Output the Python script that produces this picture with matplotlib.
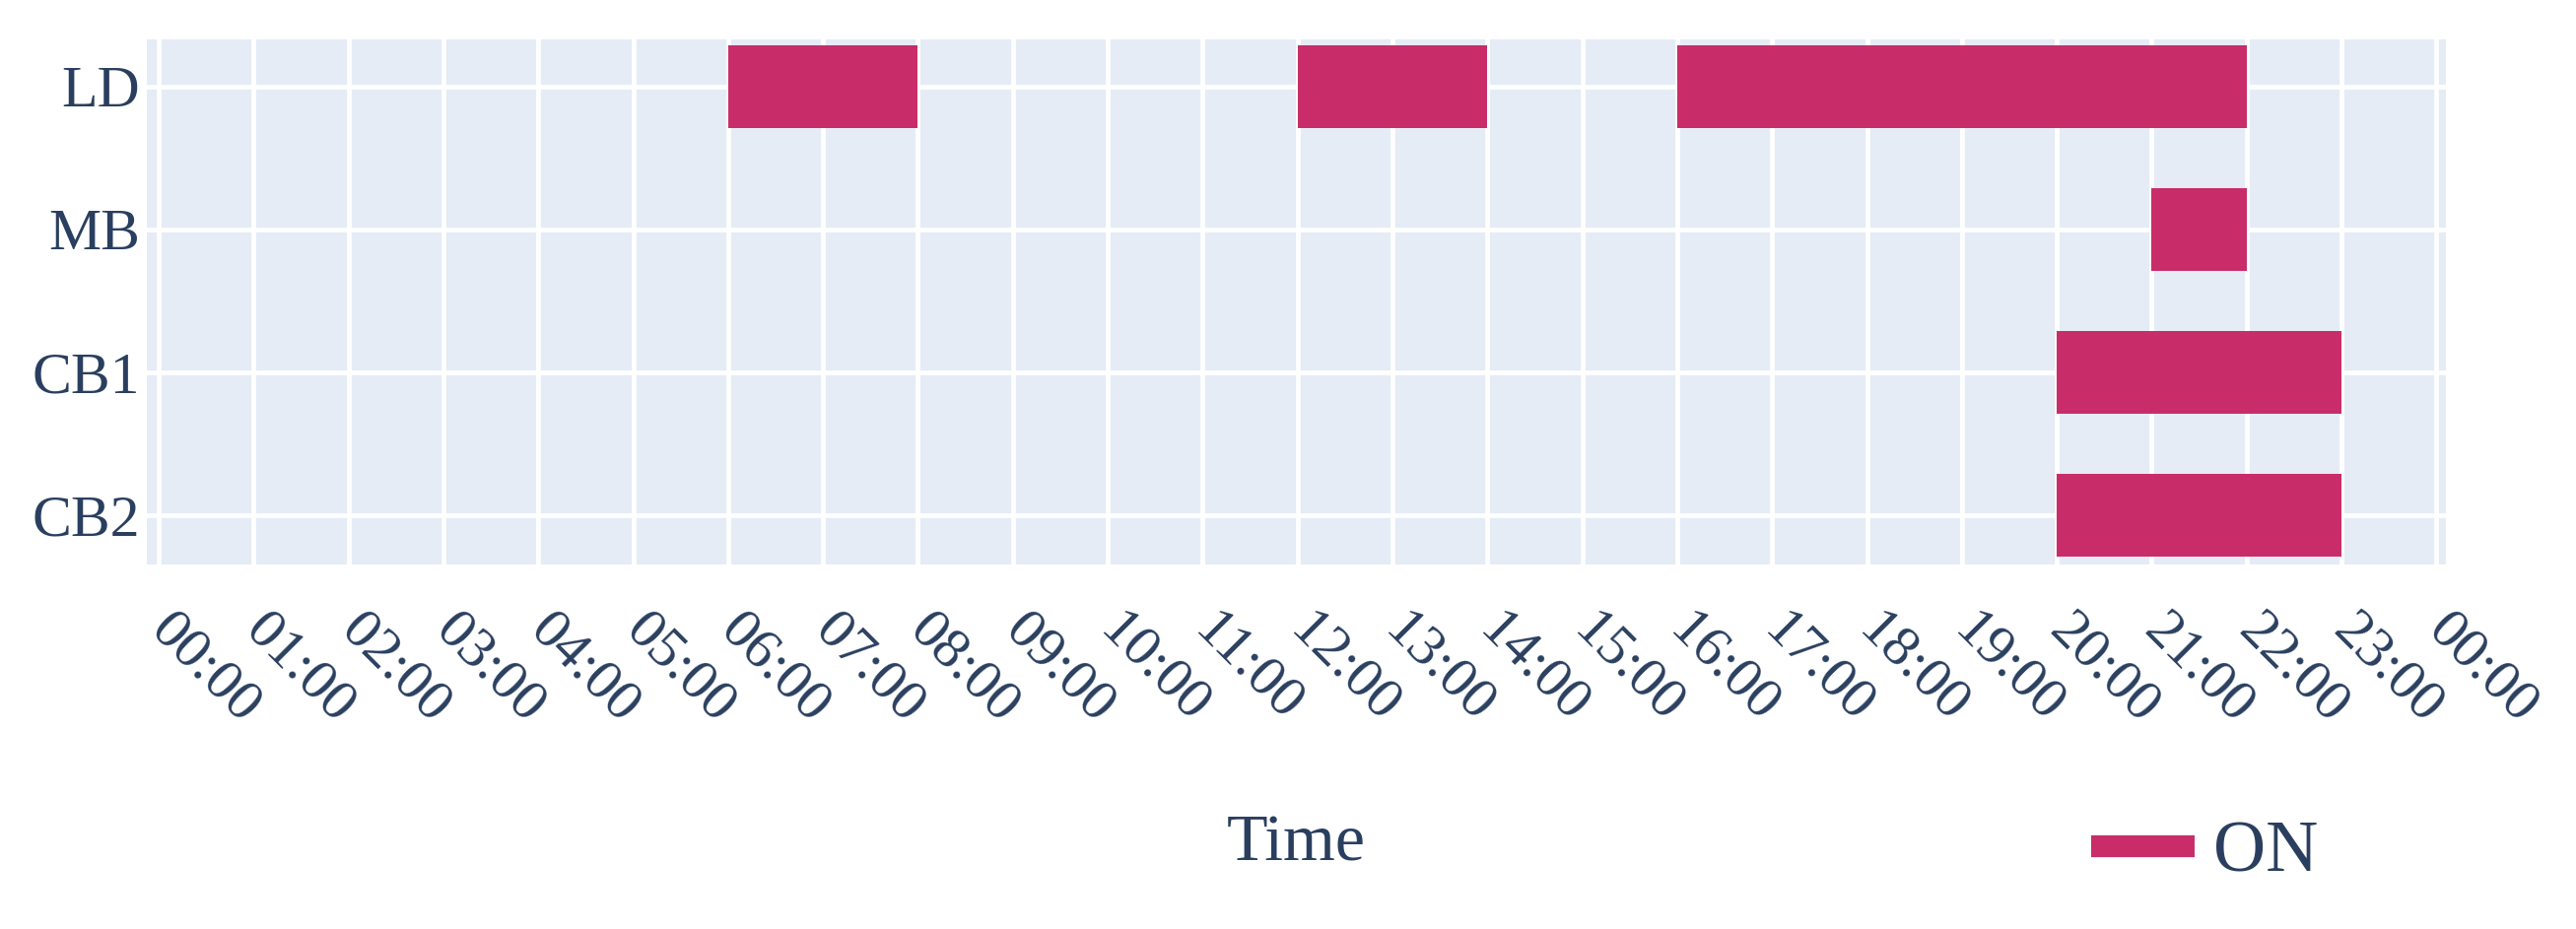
import matplotlib
matplotlib.use("Agg")
import matplotlib.pyplot as plt
from matplotlib.lines import Line2D

# ---- data ----
devices = ["LD", "MB", "CB1", "CB2"]
bar_device = ["LD", "LD", "LD", "MB", "CB1", "CB2"]
start_hour = [6, 12, 16, 21, 20, 20]
end_hour = [8, 14, 22, 22, 23, 23]
tick_hours = list(range(0, 25))
tick_labels = ["00:00", "01:00", "02:00", "03:00", "04:00", "05:00", "06:00",
               "07:00", "08:00", "09:00", "10:00", "11:00", "12:00", "13:00",
               "14:00", "15:00", "16:00", "17:00", "18:00", "19:00", "20:00",
               "21:00", "22:00", "23:00", "00:00"]
series_name = "ON"
x_title = "Time"

# ---- style ----
W, H = 2614, 943
DPI = 100
bar_color = "#C82D69"
bg = "#E5ECF6"
text_color = "#2a3f5f"
font = "Liberation Serif"

plt.rcParams["font.family"] = [font, "DejaVu Serif"]

fig = plt.figure(figsize=(W / DPI, H / DPI), dpi=DPI)
ax = fig.add_axes([149 / W, 1 - 573 / H, (2482 - 149) / W, (573 - 40) / H])
ax.set_facecolor(bg)

ypos = {d: i for i, d in enumerate(devices)}
for dev, s, e in zip(bar_device, start_hour, end_hour):
    ax.barh(ypos[dev], e - s, left=s, height=0.58, color=bar_color,
            linewidth=0, zorder=3)

ax.set_xlim(-0.125, 24.1)
ax.set_ylim(3.345, -0.33)

ax.set_yticks(range(len(devices)))
ax.set_yticklabels(devices, fontsize=43, color=text_color)
ax.set_xticks(tick_hours)
ax.set_xticklabels(tick_labels, fontsize=42, color=text_color,
                   rotation=-45, ha="left", va="center",
                   rotation_mode="anchor")
ax.tick_params(axis="x", length=0, pad=42)
ax.tick_params(axis="y", length=0, pad=5)

ax.grid(True, color="white", linewidth=3.4, zorder=1)
ax.set_axisbelow(True)
for sp in ax.spines.values():
    sp.set_visible(False)

fig.text(1315 / W, 1 - 873 / H, x_title, ha="center", va="baseline",
         fontsize=49, color=text_color)

handle = Line2D([0], [0], color=bar_color, linewidth=16, solid_capstyle="butt")
fig.legend(handles=[handle], labels=[series_name], loc="center left",
           bbox_to_anchor=(2122 / W, 1 - 867 / H), frameon=False,
           borderpad=0, borderaxespad=0, handlelength=1.43,
           handletextpad=0.25, prop={"family": font, "size": 53},
           labelcolor=text_color)

fig.savefig("out.png", dpi=DPI, facecolor="white")
